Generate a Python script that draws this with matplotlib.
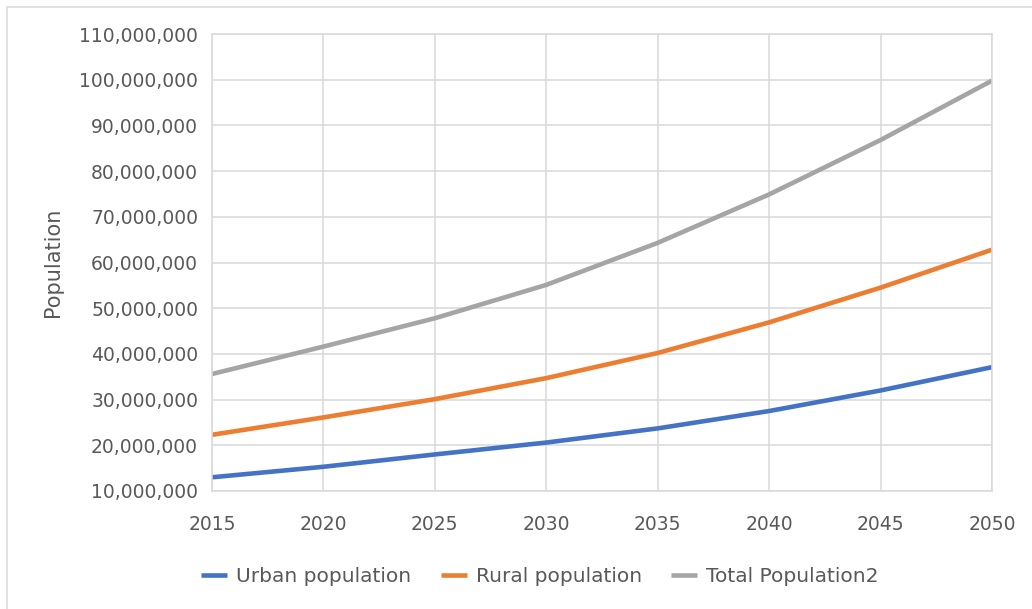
import numpy as np
import matplotlib.pyplot as plt
from matplotlib.ticker import FuncFormatter, MultipleLocator
from matplotlib.patches import Rectangle

# projected population, read every five years
years = [2015, 2020, 2025, 2030, 2035, 2040, 2045, 2050]
urban = [13.0e6, 15.3e6, 18.0e6, 20.6e6, 23.7e6, 27.5e6, 32.0e6, 37.1e6]
rural = [22.3e6, 26.1e6, 30.1e6, 34.7e6, 40.2e6, 46.9e6, 54.5e6, 62.8e6]
total = [35.6e6, 41.6e6, 47.8e6, 55.1e6, 64.3e6, 74.9e6, 86.8e6, 99.8e6]

series_names = ["Urban population", "Rural population", "Total Population2"]
series_colors = ["#4472C4", "#ED7D31", "#A5A5A5"]

W, H = 1032, 609
fig = plt.figure(figsize=(W / 100, H / 100), dpi=100)
ax = fig.add_axes([212 / W, 1 - 491 / H, (992 - 212) / W, (491 - 34) / H])

for vals, name, col in zip([urban, rural, total], series_names, series_colors):
    ax.plot(years, vals, color=col, lw=3.3, label=name, solid_capstyle="butt")

ax.set_xlim(2015, 2050)
ax.set_ylim(10e6, 110e6)
ax.xaxis.set_major_locator(MultipleLocator(5))
ax.yaxis.set_major_locator(MultipleLocator(10e6))
ax.yaxis.set_major_formatter(FuncFormatter(lambda v, p: f"{v:,.0f}"))
ax.grid(True, color="#D9D9D9", lw=1.1)
ax.set_axisbelow(True)
for s in ax.spines.values():
    s.set_color("#D9D9D9")
    s.set_linewidth(1.1)
ax.tick_params(length=0, colors="#595959", labelsize=13.5)
ax.tick_params(axis="y", pad=10)
ax.tick_params(axis="x", pad=17)
ax.set_ylabel("Population", fontsize=15, color="#595959", labelpad=12)

fig.legend(loc="center", bbox_to_anchor=(540 / W, 1 - 577 / H), ncol=3,
           frameon=False, fontsize=14.5, labelcolor="#595959",
           handlelength=1.3, handletextpad=0.45, columnspacing=1.45)

# chart border
fig.patches.append(Rectangle((7 / W, -0.1), 1.2, 1.1 - 7 / H, transform=fig.transFigure,
                             fill=False, ec="#D9D9D9", lw=1.1))

fig.savefig("out.png", dpi=100)
